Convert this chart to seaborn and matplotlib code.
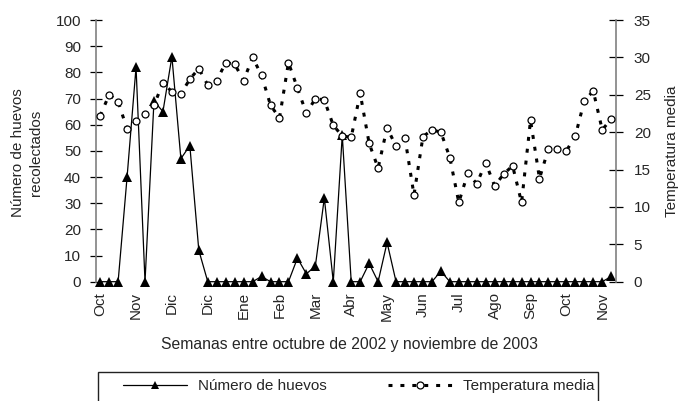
import matplotlib
matplotlib.use("Agg")
import matplotlib.pyplot as plt
from matplotlib.lines import Line2D
from matplotlib.patches import Rectangle
import seaborn as sns
import pandas as pd

sns.set_theme(style="white")
plt.rcParams['font.family'] = ['Liberation Sans', 'DejaVu Sans']

weeks = list(range(58))
eggs = [0, 0, 0, 40, 82, 0, 69, 65, 86, 47, 52, 12, 0, 0, 0, 0, 0, 0, 2, 0,
        0, 0, 9, 3, 6, 32, 0, 56, 0, 0, 7, 0, 15, 0, 0, 0, 0, 0, 4, 0,
        0, 0, 0, 0, 0, 0, 0, 0, 0, 0, 0, 0, 0, 0, 0, 0, 0, 2]
temps = [22.2, 25.0, 24.1, 20.4, 21.5, 22.4, 23.6, 26.6, 25.4, 25.1,
         27.1, 28.5, 26.3, 26.9, 29.3, 29.1, 26.9, 30.0, 27.6, 23.6,
         21.9, 29.3, 25.9, 22.5, 24.5, 24.3, 20.9, 19.5, 19.3, 25.2,
         18.5, 15.2, 20.6, 18.1, 19.2, 11.6, 19.4, 20.3, 20.0, 16.6,
         10.6, 14.5, 13.1, 15.9, 12.8, 14.4, 15.5, 10.6, 21.6, 13.8,
         17.8, 17.8, 17.5, 19.5, 24.2, 25.5, 20.3, 21.8]
month_labels = ['Oct', 'Nov', 'Dic', 'Dic', 'Ene', 'Feb', 'Mar', 'Abr',
                'May', 'Jun', 'Jul', 'Ago', 'Sep', 'Oct', 'Nov']
label_weeks = weeks[::4]

df = pd.DataFrame({'semana': weeks, 'huevos': eggs, 'temp': temps})

FS = 11
DASH = (0, (1.3, 2.6))
fig = plt.figure(figsize=(6.79, 4.01), dpi=100)
ax = fig.add_axes([95.7/679, 1-281.7/401, (615.7-95.7)/679, (281.7-20)/401])
ax2 = ax.twinx()

sns.lineplot(data=df, x='semana', y='huevos', ax=ax, color='black', lw=0.9,
             marker='^', markersize=6.5, markeredgewidth=0, markerfacecolor='black',
             clip_on=False, zorder=3)
sns.lineplot(data=df, x='semana', y='temp', ax=ax2, color='black', lw=2.2,
             linestyle=DASH, marker='o', markersize=5,
             markerfacecolor='white', markeredgecolor='black', markeredgewidth=0.9,
             clip_on=False, zorder=3)

ax.set_xlim(-0.5, 57.5)
ax.set_ylim(0, 100)
ax2.set_ylim(0, 35)
ax.set_yticks(range(0, 101, 10))
ax2.set_yticks(range(0, 36, 5))
ax.set_xticks(label_weeks)
ax.set_xticklabels(month_labels, rotation=90, fontsize=FS)
ax.tick_params(axis='x', length=0, pad=7.5)

gray = '#808080'
for a in (ax, ax2):
    for s in ('top', 'bottom'):
        a.spines[s].set_visible(False)
    a.set_xlabel('')
    a.set_ylabel('')
    a.grid(False)
ax.spines['left'].set_color(gray)
ax.spines['left'].set_linewidth(1.2)
ax.spines['right'].set_visible(False)
ax2.spines['left'].set_visible(False)
ax2.spines['right'].set_color(gray)
ax2.spines['right'].set_linewidth(1.2)
ax.tick_params(axis='y', direction='inout', length=9, width=0.9, color='black',
               labelsize=FS, pad=6.0, left=True)
ax2.tick_params(axis='y', direction='inout', length=10, width=0.9, color='black',
                labelsize=FS, pad=8, right=True)

fig.text(26.7/679, 1-153/401, 'Número de huevos\nrecolectados', rotation=90,
         ha='center', va='center', fontsize=FS, linespacing=1.35,
         multialignment='center')
fig.text(671.7/679, 1-151/401, 'Temperatura media', rotation=90,
         ha='center', va='center', fontsize=FS)
fig.text(350/679, 1-345/401, 'Semanas entre octubre de 2002 y noviembre de 2003',
         ha='center', va='center', fontsize=11.3)

# legend box (bottom edge outside the picture)
fig.patches.append(Rectangle((98/679, -0.2), 500/679, 0.2 + (401-372)/401,
                             transform=fig.transFigure, fill=False,
                             edgecolor='#222222', lw=1.0))
h1 = Line2D([], [], color='black', lw=0.9, marker='^', markersize=6,
            markeredgewidth=0, markerfacecolor='black')
h2 = Line2D([], [], color='black', lw=2.2, linestyle=DASH, marker='o',
            markersize=5, markerfacecolor='white', markeredgecolor='black',
            markeredgewidth=0.9)
fig.legend([h1, h2], ['Número de huevos', 'Temperatura media'], ncol=2,
           loc='center left', bbox_to_anchor=(123/679, 1-386/401),
           frameon=False, fontsize=FS, handlelength=4.2, columnspacing=4.0,
           handletextpad=0.72, borderaxespad=0, borderpad=0)

fig.savefig('out.png', dpi=100)
